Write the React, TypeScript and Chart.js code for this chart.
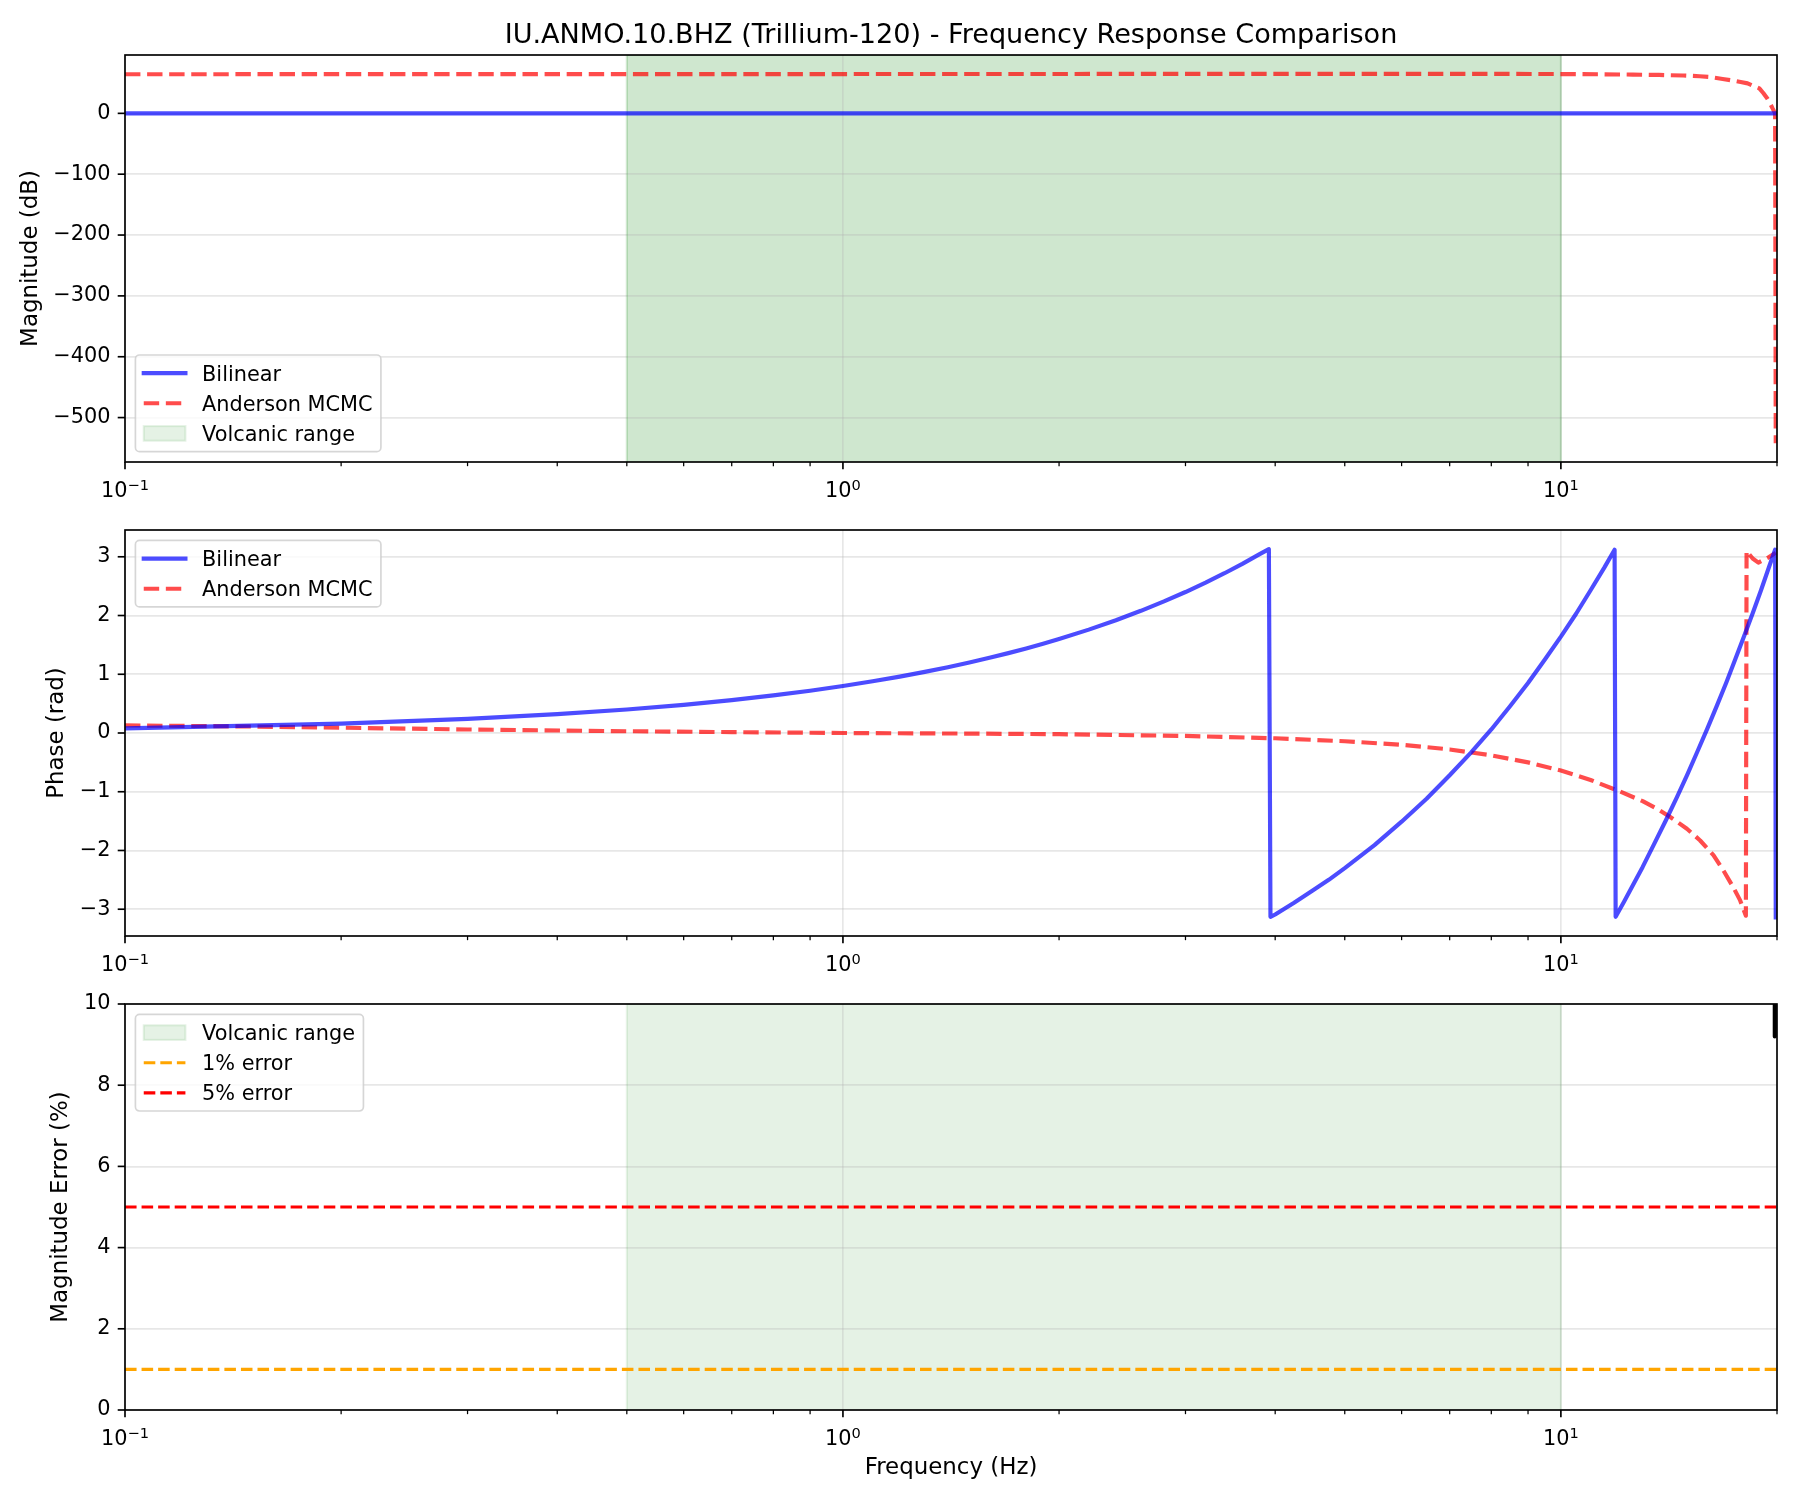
import React, { useEffect, useRef } from 'react';
import { Chart, registerables } from 'chart.js';

Chart.register(...registerables);

// ---------------- data ----------------
const FREQ_LIMITS = [0.1, 20];
const VOLCANIC_RANGE = [0.5, 10];

const MAG_FREQ_BILINEAR = [0.1, 0.2, 0.5, 1, 2, 5, 10, 15, 19.92];
const MAG_DB_BILINEAR = [0, 0, 0, 0, 0, 0, 0, 0, 0];

const MAG_FREQ_ANDERSON = [0.1, 0.3, 1, 3, 6, 8.2, 10, 11.3, 12.6, 13.7, 14.8, 15.6, 16.1, 16.8, 17.4, 17.8, 18.2, 18.9, 19.15, 19.4, 19.56, 19.7, 19.82, 19.88, 19.92];
const MAG_DB_ANDERSON = [64.3, 64.4, 64.6, 64.8, 64.9, 64.8, 64.6, 64.2, 63.7, 63.1, 62.2, 61.0, 59.8, 56.5, 53.7, 51.5, 49.2, 41.0, 33.0, 24.0, 16.5, 9.0, 3.0, 0.5, -542];

const PHASE_FREQ_BILINEAR = [
  0.1, 0.2, 0.3, 0.4, 0.5, 0.6, 0.7, 0.8, 0.9, 1.0, 1.1, 1.2, 1.3, 1.4, 1.5, 1.6, 1.7, 1.8, 1.9, 2.0, 2.2, 2.4, 2.6, 2.8, 3.0, 3.2, 3.4, 3.6, 3.8, 3.92, 3.94,
  4.0, 4.25, 4.5, 4.75, 5, 5.5, 6, 6.5, 7, 7.5, 8, 8.5, 9, 9.5, 10, 10.5, 11, 11.5, 11.88, 11.92,
  12.25, 12.5, 13, 13.5, 14, 14.5, 15, 15.5, 16, 16.5, 17, 17.5, 18, 18.5, 19, 19.5, 19.88, 19.92,
];
const PHASE_BILINEAR = [
  0.08, 0.16, 0.24, 0.32, 0.40, 0.48, 0.56, 0.64, 0.72, 0.80, 0.88, 0.96, 1.04, 1.12, 1.20, 1.28, 1.36, 1.44, 1.52, 1.60, 1.76, 1.92, 2.08, 2.24, 2.40, 2.56, 2.72, 2.88, 3.04, 3.13, -3.13,
  -3.09, -2.89, -2.69, -2.50, -2.30, -1.91, -1.51, -1.12, -0.72, -0.33, 0.06, 0.46, 0.85, 1.25, 1.64, 2.03, 2.43, 2.82, 3.12, -3.13,
  -2.87, -2.67, -2.28, -1.88, -1.49, -1.10, -0.71, -0.31, 0.08, 0.47, 0.86, 1.26, 1.65, 2.04, 2.43, 2.83, 3.12, -3.14,
];

const PHASE_FREQ_ANDERSON = [0.1, 0.15, 0.2, 0.3, 0.5, 0.7, 1, 1.5, 2, 3, 4, 5, 6, 7, 8, 9, 10, 11, 12, 13, 13.7, 14.2, 14.98, 15.63, 16.31, 16.84, 17.39, 17.77, 18.1, 18.14, 18.5, 18.84, 19.4, 19.92];
const PHASE_ANDERSON = [0.13, 0.11, 0.09, 0.06, 0.03, 0.015, 0.0, -0.01, -0.02, -0.05, -0.09, -0.14, -0.2, -0.28, -0.38, -0.5, -0.64, -0.8, -0.98, -1.16, -1.31, -1.43, -1.63, -1.83, -2.08, -2.34, -2.63, -2.85, -3.11, 3.1, 2.97, 2.9, 2.98, 3.07];

const ERROR_FREQ = [0.1, 1, 10, 19.7, 19.8, 19.86, 19.92];
const ERROR_PCT = [99.9, 99.9, 99.9, 99.9, 99.9, 9.2, 100.0];
const ERROR_THRESHOLD_1 = 1;
const ERROR_THRESHOLD_5 = 5;

const X_MAJOR_TICKS = [0.1, 1, 10];
const X_MINOR_TICKS = [0.2, 0.3, 0.4, 0.5, 0.6, 0.7, 0.8, 0.9, 2, 3, 4, 5, 6, 7, 8, 9, 20];
const X_TICK_BASE = '10';
const X_TICK_EXPONENTS = ['\u22121', '0', '1'];

const MAG_TICKS = [0, -100, -200, -300, -400, -500];
const PHASE_TICKS = [-3, -2, -1, 0, 1, 2, 3];
const ERROR_TICKS = [0, 2, 4, 6, 8, 10];

const MAG_LIMITS = [-573, 95.9];
const PHASE_LIMITS = [-3.456, 3.456];
const ERROR_LIMITS = [0, 10];

const TITLE = 'IU.ANMO.10.BHZ (Trillium-120) - Frequency Response Comparison';

// ---------------- styling ----------------
const PT = 150 / 72;
const FS = 10 * PT;
const LABEL_FS = 11 * PT;
const TITLE_FS = 13 * PT;
const FONT = '"DejaVu Sans", "Liberation Sans", sans-serif';
const GRID = 'rgba(176,176,176,0.3)';
const BLUE = 'rgba(0,0,255,0.7)';
const RED_A = 'rgba(255,0,0,0.7)';
const GREEN_SPAN_DOUBLE = 'rgba(0,128,0,0.19)';
const GREEN_SPAN = 'rgba(0,128,0,0.1)';
const ORANGE = '#ffa500';
const RED = '#ff0000';
const DASH2 = [3.7 * 2 * PT, 1.6 * 2 * PT];
const DASH15 = [3.7 * 1.5 * PT, 1.6 * 1.5 * PT];

const W = 1800;
const H = 1500;
const AX_LEFT = 125;
const AX_RIGHT = 1777;

const pts = (xs: number[], ys: number[]) => xs.map((x, i) => ({ x, y: ys[i] }));
const fmt = (v: number) => String(Math.round(v * 1000) / 1000).replace('-', '\u2212');

type LegendItem = { label: string; kind: 'line' | 'patch'; color: string; width?: number; dash?: number[] };

function lineDs(label: string, data: any[], color: string, width: number, dash?: number[]) {
  return {
    label,
    data,
    borderColor: color,
    backgroundColor: color,
    borderWidth: width,
    borderDash: dash || [],
    borderCapStyle: dash ? 'butt' : 'square',
    borderJoinStyle: 'round',
    pointRadius: 0,
    pointHoverRadius: 0,
    fill: false,
    tension: 0,
  };
}

function spanDs(label: string, range: number[], lim: number[], color: string) {
  return {
    label,
    data: [
      { x: range[0], y: lim[0] },
      { x: range[0], y: lim[1] },
      { x: range[1], y: lim[1] },
      { x: range[1], y: lim[0] },
    ],
    borderColor: color,
    backgroundColor: color,
    borderWidth: 1 * PT,
    pointRadius: 0,
    pointHoverRadius: 0,
    fill: 'start',
    tension: 0,
  };
}

function makeDecor(id: string, yTicks: number[], legend: { loc: 'upper left' | 'lower left'; items: LegendItem[] }, title?: string) {
  return {
    id,
    afterDraw(chart: any) {
      const { ctx, chartArea: a, scales } = chart;
      const xs = scales.x;
      const ys = scales.y;
      ctx.save();
      ctx.strokeStyle = '#000';
      ctx.lineCap = 'butt';
      const seg = (x1: number, y1: number, x2: number, y2: number, w: number) => {
        ctx.lineWidth = w;
        ctx.beginPath();
        ctx.moveTo(x1, y1);
        ctx.lineTo(x2, y2);
        ctx.stroke();
      };
      X_MAJOR_TICKS.forEach((v) => {
        const px = xs.getPixelForValue(v);
        seg(px, a.bottom, px, a.bottom + 3.5 * PT, 0.8 * PT);
      });
      X_MINOR_TICKS.forEach((v) => {
        const px = xs.getPixelForValue(v);
        seg(px, a.bottom, px, a.bottom + 2 * PT, 0.6 * PT);
      });
      yTicks.forEach((v) => {
        const py = ys.getPixelForValue(v);
        seg(a.left - 3.5 * PT, py, a.left, py, 0.8 * PT);
      });
      // spines
      ctx.lineWidth = 0.8 * PT;
      ctx.lineJoin = 'miter';
      ctx.strokeRect(a.left, a.top, a.right - a.left, a.bottom - a.top);

      // x tick labels (10^n)
      ctx.fillStyle = '#000';
      ctx.textBaseline = 'alphabetic';
      ctx.textAlign = 'left';
      const baseFont = `${FS}px ${FONT}`;
      const supFont = `${FS * 0.7}px ${FONT}`;
      X_MAJOR_TICKS.forEach((v, i) => {
        const px = xs.getPixelForValue(v);
        ctx.font = baseFont;
        const wb = ctx.measureText(X_TICK_BASE).width;
        ctx.font = supFont;
        const we = ctx.measureText(X_TICK_EXPONENTS[i]).width;
        const x0 = px - (wb + we) / 2;
        const by = a.bottom + 35;
        ctx.font = baseFont;
        ctx.fillText(X_TICK_BASE, x0, by);
        ctx.font = supFont;
        ctx.fillText(X_TICK_EXPONENTS[i], x0 + wb, by - 7.4);
      });

      // legend
      const items = legend.items;
      const pad = 0.4 * FS;
      const handleLen = 2 * FS;
      const textPad = 0.8 * FS;
      const rowH = 19.7;
      const spacing = 0.5 * FS;
      ctx.font = baseFont;
      const maxW = Math.max(...items.map((it) => ctx.measureText(it.label).width));
      const bw = pad + handleLen + textPad + maxW + pad;
      const bh = 2 * pad + items.length * rowH + (items.length - 1) * spacing;
      const bx = a.left + 0.5 * FS;
      const by = legend.loc === 'upper left' ? a.top + 0.5 * FS : a.bottom - 0.5 * FS - bh;
      ctx.beginPath();
      if (ctx.roundRect) ctx.roundRect(bx, by, bw, bh, 0.2 * FS);
      else ctx.rect(bx, by, bw, bh);
      ctx.fillStyle = 'rgba(255,255,255,0.8)';
      ctx.fill();
      ctx.strokeStyle = 'rgba(204,204,204,0.8)';
      ctx.lineWidth = 0.8 * PT;
      ctx.stroke();
      items.forEach((it, i) => {
        const cy = by + pad + rowH / 2 + i * (rowH + spacing);
        const hx0 = bx + pad;
        const hx1 = hx0 + handleLen;
        if (it.kind === 'line') {
          ctx.save();
          ctx.strokeStyle = it.color;
          ctx.lineWidth = it.width || 2 * PT;
          ctx.setLineDash(it.dash || []);
          ctx.lineCap = it.dash ? 'butt' : 'square';
          ctx.beginPath();
          ctx.moveTo(hx0, cy);
          ctx.lineTo(hx1, cy);
          ctx.stroke();
          ctx.restore();
        } else {
          ctx.save();
          ctx.fillStyle = it.color;
          ctx.strokeStyle = it.color;
          ctx.lineWidth = 1 * PT;
          ctx.fillRect(hx0, cy - 0.35 * FS, handleLen, 0.7 * FS);
          ctx.strokeRect(hx0, cy - 0.35 * FS, handleLen, 0.7 * FS);
          ctx.restore();
        }
        ctx.fillStyle = '#000';
        ctx.font = baseFont;
        ctx.textAlign = 'left';
        ctx.textBaseline = 'alphabetic';
        ctx.fillText(it.label, hx1 + textPad, cy + (0.729 * FS) / 2);
      });

      if (title) {
        ctx.fillStyle = '#000';
        ctx.font = `${TITLE_FS}px ${FONT}`;
        ctx.textAlign = 'center';
        ctx.textBaseline = 'alphabetic';
        ctx.fillText(title, (a.left + a.right) / 2, a.top - 6 * PT);
      }
      ctx.restore();
    },
  };
}

function makeOptions(p: {
  top: number;
  bottom: number;
  yLim: number[];
  yTicks: number[];
  yTitle: string;
  yTitleCenter: number;
  xTitle?: string;
}) {
  const lh = LABEL_FS * 1.2;
  return {
    responsive: false,
    animation: false,
    devicePixelRatio: 1,
    events: [],
    layout: { padding: { left: 0, right: W - AX_RIGHT, top: p.top, bottom: 0 } },
    plugins: {
      legend: { display: false },
      tooltip: { enabled: false },
      title: { display: false },
      filler: { drawTime: 'beforeDraw' },
    },
    scales: {
      x: {
        type: 'logarithmic',
        min: FREQ_LIMITS[0],
        max: FREQ_LIMITS[1],
        afterBuildTicks: (s: any) => {
          s.ticks = [...X_MAJOR_TICKS, ...X_MINOR_TICKS].sort((a, b) => a - b).map((v) => ({ value: v }));
        },
        afterFit: (s: any) => {
          s.height = H - p.bottom;
        },
        grid: {
          color: (c: any) => (c.tick && X_MAJOR_TICKS.includes(c.tick.value) ? GRID : 'rgba(0,0,0,0)'),
          lineWidth: 0.8 * PT,
          drawTicks: false,
        },
        border: { display: false },
        ticks: { display: false },
        title: p.xTitle
          ? {
              display: true,
              text: p.xTitle,
              color: '#000',
              font: { family: FONT, size: LABEL_FS, lineHeight: 1.2 },
              padding: { top: 0, bottom: 32 - lh / 2 },
            }
          : { display: false },
      },
      y: {
        type: 'linear',
        min: p.yLim[0],
        max: p.yLim[1],
        afterBuildTicks: (s: any) => {
          s.ticks = p.yTicks.slice().sort((a, b) => a - b).map((v) => ({ value: v }));
        },
        afterFit: (s: any) => {
          s.width = AX_LEFT;
        },
        grid: { color: GRID, lineWidth: 0.8 * PT, drawTicks: false },
        border: { display: false },
        ticks: {
          padding: 7 * PT,
          color: '#000',
          autoSkip: false,
          font: { family: FONT, size: FS },
          callback: (v: any) => fmt(Number(v)),
        },
        title: {
          display: true,
          text: p.yTitle,
          color: '#000',
          font: { family: FONT, size: LABEL_FS, lineHeight: 1.2 },
          padding: { top: p.yTitleCenter - lh / 2, bottom: 0 },
        },
      },
    },
  };
}

function config1(): any {
  return {
    type: 'line',
    data: {
      datasets: [
        lineDs('Bilinear', pts(MAG_FREQ_BILINEAR, MAG_DB_BILINEAR), BLUE, 2 * PT),
        lineDs('Anderson MCMC', pts(MAG_FREQ_ANDERSON, MAG_DB_ANDERSON), RED_A, 2 * PT, DASH2),
        spanDs('Volcanic range', VOLCANIC_RANGE, MAG_LIMITS, GREEN_SPAN_DOUBLE),
      ],
    },
    options: makeOptions({ top: 55, bottom: 462, yLim: MAG_LIMITS, yTicks: MAG_TICKS, yTitle: 'Magnitude (dB)', yTitleCenter: 31 }),
    plugins: [
      makeDecor(
        'decor1',
        MAG_TICKS,
        {
          loc: 'lower left',
          items: [
            { label: 'Bilinear', kind: 'line', color: BLUE, width: 2 * PT },
            { label: 'Anderson MCMC', kind: 'line', color: RED_A, width: 2 * PT, dash: DASH2 },
            { label: 'Volcanic range', kind: 'patch', color: GREEN_SPAN },
          ],
        },
        TITLE
      ),
    ],
  };
}

function config2(): any {
  return {
    type: 'line',
    data: {
      datasets: [
        lineDs('Bilinear', pts(PHASE_FREQ_BILINEAR, PHASE_BILINEAR), BLUE, 2 * PT),
        lineDs('Anderson MCMC', pts(PHASE_FREQ_ANDERSON, PHASE_ANDERSON), RED_A, 2 * PT, DASH2),
      ],
    },
    options: makeOptions({ top: 530, bottom: 936, yLim: PHASE_LIMITS, yTicks: PHASE_TICKS, yTitle: 'Phase (rad)', yTitleCenter: 57.5 }),
    plugins: [
      makeDecor('decor2', PHASE_TICKS, {
        loc: 'upper left',
        items: [
          { label: 'Bilinear', kind: 'line', color: BLUE, width: 2 * PT },
          { label: 'Anderson MCMC', kind: 'line', color: RED_A, width: 2 * PT, dash: DASH2 },
        ],
      }),
    ],
  };
}

function config3(): any {
  return {
    type: 'line',
    data: {
      datasets: [
        lineDs('Magnitude error', pts(ERROR_FREQ, ERROR_PCT), '#000000', 2 * PT),
        lineDs('1% error', pts(FREQ_LIMITS, [ERROR_THRESHOLD_1, ERROR_THRESHOLD_1]), ORANGE, 1.5 * PT, DASH15),
        lineDs('5% error', pts(FREQ_LIMITS, [ERROR_THRESHOLD_5, ERROR_THRESHOLD_5]), RED, 1.5 * PT, DASH15),
        spanDs('Volcanic range', VOLCANIC_RANGE, ERROR_LIMITS, GREEN_SPAN),
      ],
    },
    options: makeOptions({
      top: 1004,
      bottom: 1410,
      yLim: ERROR_LIMITS,
      yTicks: ERROR_TICKS,
      yTitle: 'Magnitude Error (%)',
      yTitleCenter: 61,
      xTitle: 'Frequency (Hz)',
    }),
    plugins: [
      makeDecor('decor3', ERROR_TICKS, {
        loc: 'upper left',
        items: [
          { label: 'Volcanic range', kind: 'patch', color: GREEN_SPAN },
          { label: '1% error', kind: 'line', color: ORANGE, width: 1.5 * PT, dash: DASH15 },
          { label: '5% error', kind: 'line', color: RED, width: 1.5 * PT, dash: DASH15 },
        ],
      }),
    ],
  };
}

export default function App() {
  const r1 = useRef<HTMLCanvasElement>(null);
  const r2 = useRef<HTMLCanvasElement>(null);
  const r3 = useRef<HTMLCanvasElement>(null);

  useEffect(() => {
    Chart.defaults.font.family = FONT;
    Chart.defaults.color = '#000';
    const charts = [
      new Chart(r1.current as HTMLCanvasElement, config1()),
      new Chart(r2.current as HTMLCanvasElement, config2()),
      new Chart(r3.current as HTMLCanvasElement, config3()),
    ];
    return () => charts.forEach((c) => c.destroy());
  }, []);

  const cs: React.CSSProperties = { position: 'absolute', left: 0, top: 0, width: W, height: H };
  return (
    <div style={{ position: 'absolute', left: 0, top: 0, width: W, height: H, background: '#fff' }}>
      <canvas ref={r1} width={W} height={H} style={cs} />
      <canvas ref={r2} width={W} height={H} style={cs} />
      <canvas ref={r3} width={W} height={H} style={cs} />
    </div>
  );
}
